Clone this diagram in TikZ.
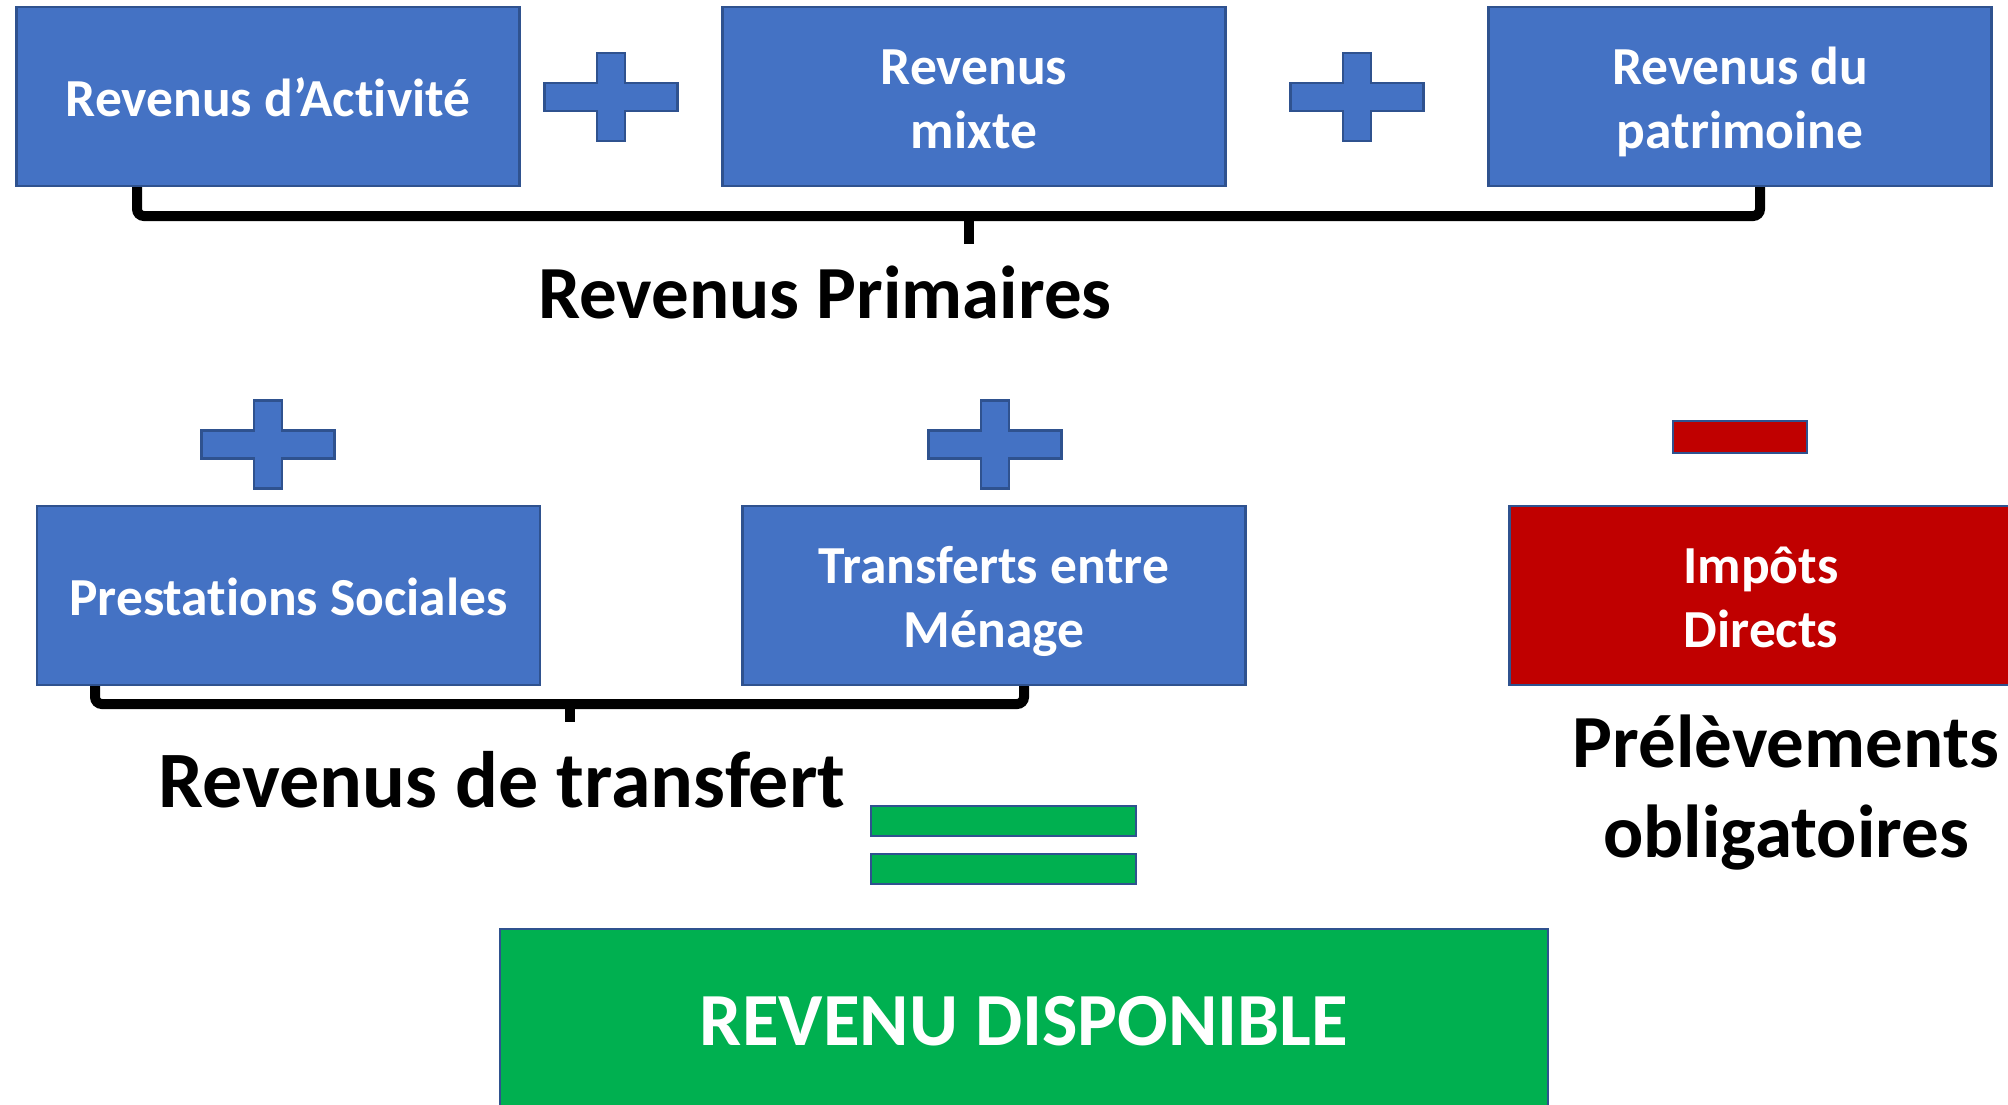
\documentclass[tikz,border=0pt]{standalone}
\usepackage{fontspec}
\setmainfont{Carlito}[Ligatures=NoCommon]
\usetikzlibrary{calc}
\definecolor{blu}{HTML}{4472C4}
\definecolor{blb}{HTML}{2F528F}
\definecolor{rd}{HTML}{C00000}
\definecolor{gr}{HTML}{00B050}
\newcommand\pst{\rule[-0.22em]{0pt}{1.17em}}
\tikzset{
  box/.style={draw=blb, line width=2.5pt, fill=blu, text=white,
    font=\fontsize{53.5}{64}\selectfont\bfseries, align=center, inner sep=0pt,
    minimum width=503pt, minimum height=179pt},
  bigtxt/.style={font=\fontsize{75}{90}\selectfont\bfseries, align=center, inner sep=0pt, text=black},
  brk/.style={draw=black, line width=10pt, rounded corners=7pt},
  tick/.style={draw=black, line width=10pt},
  bar/.style={draw=blb, line width=2.5pt, inner sep=0pt},
  pics/plussign/.style={code={
    \path[draw=blb, line width=2.5pt, fill=blu]
      (-66.5,-14) -- (-14,-14) -- (-14,-44) -- (14,-44) -- (14,-14) -- (66.5,-14)
      -- (66.5,14) -- (14,14) -- (14,44) -- (-14,44) -- (-14,14) -- (-66.5,14) -- cycle;}}
}
\begin{document}
\begin{tikzpicture}[x=1pt,y=-1pt]
\useasboundingbox (0,0) rectangle (2008,1104);
\fill[white] (0,0) rectangle (2008,1104);
% brackets
\coordinate (ta) at (137,186);
\coordinate (tb) at (1760,186);
\coordinate (tm) at (969,216);
\coordinate (tt) at (969,244);
\draw[brk] (ta) -- (ta |- tm) -- (tb |- tm) -- (tb);
\draw[tick] (tm) -- (tt);
\coordinate (ua) at (95,686);
\coordinate (ub) at (1024,686);
\coordinate (um) at (570,704);
\coordinate (ut) at (570,722);
\draw[brk] (ua) -- (ua |- um) -- (ub |- um) -- (ub);
\draw[tick] (um) -- (ut);
% row 1
\node[box] (b1) at (268,96.5) {\pst Revenus d’Activité};
\node[box] (b2) at (974,96.5) {\pst Revenus\\\pst mixte};
\node[box] (b3) at (1740,96.5) {\pst Revenus du\\\pst patrimoine};
\pic (p1) at (611,97) {plussign};
\pic (p2) at (1357,97) {plussign};
\node[bigtxt, anchor=base] (rp) at (825,318) {Revenus Primaires};
% row 2
\pic (p3) at (268,444.5) {plussign};
\pic (p4) at (995,444.5) {plussign};
\node[bar, fill=rd, minimum width=134pt, minimum height=32pt] (mn) at (1740,437) {};
\node[box] (b4) at (288.5,595.5) {\pst Prestations Sociales};
\node[box] (b5) at (994,595.5) {\pst Transferts entre\\\pst Ménage};
\node[box, fill=rd] (b6) at (1761,595.5) {\pst Impôts\\\pst Directs};
\node[bigtxt, anchor=base, font=\fontsize{80}{90}\selectfont\bfseries] (rt) at (502,807) {Revenus de transfert};
\node[bigtxt] (po) at (1786,785) {\pst Prélèvements\\\pst obligatoires};
% equals
\node[bar, fill=gr, minimum width=265pt, minimum height=30pt] (e1) at (1003.5,821) {};
\node[bar, fill=gr, minimum width=265pt, minimum height=30pt] (e2) at (1003.5,869) {};
% result
\node[box, fill=gr, minimum width=1048pt, minimum height=179pt, font=\fontsize{75}{90}\selectfont\bfseries] (rd) at (1024,1018.5) {\pst REVENU DISPONIBLE};
\end{tikzpicture}
\end{document}
